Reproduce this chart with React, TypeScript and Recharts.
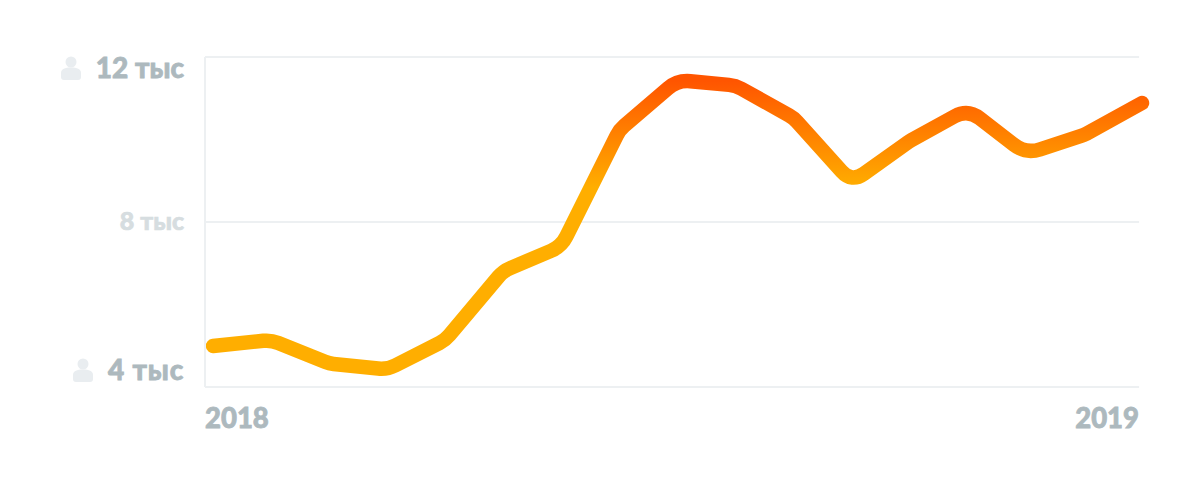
import { Line, LineChart, ReferenceLine, XAxis, YAxis } from "recharts";

const MONTHS = [
  "2018-01", "2018-02", "2018-03", "2018-04", "2018-05", "2018-06",
  "2018-07", "2018-08", "2018-09", "2018-10", "2018-11", "2018-12",
  "2019-01", "2019-02", "2019-03", "2019-04", "2019-05",
];
const SUBSCRIBERS = [
  4994, 5139, 4570, 4424, 5139, 6812, 7406, 10230, 11442, 11309, 10521, 8958,
  9964, 10739, 9649, 10109, 10885,
];
const Y_TICKS = [4000, 8000, 12000];
const Y_LABELS: Record<number, string> = {
  4000: "4 тыс",
  8000: "8 тыс",
  12000: "12 тыс",
};
const X_TICKS = [0, 16];
const X_LABELS: Record<number, string> = { 0: "2018", 16: "2019" };

const data = MONTHS.map((month, i) => ({ i, month, value: SUBSCRIBERS[i] }));

const FONT = "Lato, 'Noto Sans', sans-serif";
const GRID = "#edf0f2";
const X_MIN = -0.138;
const X_GRID_END = 15.95;

// straight segments with softened corners, sharper bends get a wider radius
function roundedCurve(context: any) {
  let pts: [number, number][] = [];
  return {
    areaStart() {},
    areaEnd() {},
    lineStart() {
      pts = [];
    },
    point(x: number, y: number) {
      pts.push([+x, +y]);
    },
    lineEnd() {
      pts.forEach((p, k) => {
        if (k === 0) {
          context.moveTo(p[0], p[1]);
        } else if (k === pts.length - 1) {
          context.lineTo(p[0], p[1]);
        } else {
          const a = pts[k - 1];
          const b = pts[k + 1];
          const la = Math.hypot(p[0] - a[0], p[1] - a[1]);
          const lb = Math.hypot(b[0] - p[0], b[1] - p[1]);
          const turn = Math.abs(
            Math.atan2(b[1] - p[1], b[0] - p[0]) - Math.atan2(p[1] - a[1], p[0] - a[0]),
          );
          const corner = Math.min(15, 16 * turn);
          const ra = corner / la;
          const rb = corner / lb;
          context.lineTo(p[0] + (a[0] - p[0]) * ra, p[1] + (a[1] - p[1]) * ra);
          context.quadraticCurveTo(p[0], p[1], p[0] + (b[0] - p[0]) * rb, p[1] + (b[1] - p[1]) * rb);
        }
      });
    },
  };
}

function UserIcon({ x, y }: { x: number; y: number }) {
  return (
    <g transform={`translate(${x},${y})`} fill="#e9edf0">
      <circle cx={10} cy={6} r={5.5} />
      <path d="M0 17 C0 13 4 11.5 10 11.5 C16 11.5 20 13 20 17 L20 21 C20 23 19 24 17 24 L3 24 C1 24 0 23 0 21 Z" />
    </g>
  );
}

function YTick({ x, y, payload }: any) {
  const value = payload.value as number;
  if (value === 8000) {
    return (
      <text x={x} y={y + 8} textAnchor="end" fontFamily={FONT} fontWeight={900} fontSize={25} fill="#d6dde0" stroke="#d6dde0" strokeWidth={0.7}>
        {Y_LABELS[value]}
      </text>
    );
  }
  const dy = value === 12000 ? 11 : -17;
  const iconX = value === 12000 ? -123 : -111;
  return (
    <g>
      <UserIcon x={x + iconX} y={y + dy - 12} />
      <text
        x={x}
        y={y + dy + 10}
        textAnchor="end"
        fontFamily={FONT}
        fontWeight={900}
        fontSize={28}
        letterSpacing={value === 4000 ? 0.8 : 0}
        fill="#adb9be"
        stroke="#adb9be"
        strokeWidth={0.8}
      >
        {Y_LABELS[value]}
      </text>
    </g>
  );
}

function XTick({ payload, y }: any) {
  const first = payload.value === 0;
  return (
    <text
      x={first ? 205 : 1139}
      y={y + 20}
      textAnchor={first ? "start" : "end"}
      fontFamily={FONT}
      fontWeight={900}
      fontSize={27.5}
      fill="#adb9be"
      stroke="#adb9be"
      strokeWidth={0.8}
    >
      {X_LABELS[payload.value]}
    </text>
  );
}

export default function App() {
  return (
    <div style={{ position: "absolute", left: 0, top: 0, width: 1200, height: 488, background: "#fff" }}>
      <LineChart
        width={1200}
        height={488}
        data={data}
        margin={{ top: 57, right: 58, left: 0, bottom: 0 }}
      >
        <defs>
          <linearGradient id="lineGradient" x1="0" y1="0" x2="0" y2="1">
            <stop offset="0%" stopColor="#ff5500" />
            <stop offset="37%" stopColor="#ffae00" />
            <stop offset="100%" stopColor="#ffae00" />
          </linearGradient>
        </defs>
        <XAxis
          dataKey="i"
          type="number"
          domain={[X_MIN, 16]}
          ticks={X_TICKS}
          height={101}
          axisLine={false}
          tickLine={false}
          tickSize={0}
          tickMargin={21}
          tick={<XTick />}
          interval={0}
        />
        <YAxis
          type="number"
          domain={[4000, 12000]}
          ticks={Y_TICKS}
          width={205}
          axisLine={{ stroke: GRID, strokeWidth: 2 }}
          tickLine={false}
          tickSize={0}
          tickMargin={21}
          tick={<YTick />}
          interval={0}
        />
        {Y_TICKS.map((t) => (
          <ReferenceLine
            key={t}
            segment={[
              { x: X_MIN, y: t },
              { x: X_GRID_END, y: t },
            ]}
            stroke={GRID}
            strokeWidth={2}
            ifOverflow="visible"
          />
        ))}
        <Line
          dataKey="value"
          type={roundedCurve as any}
          stroke="url(#lineGradient)"
          strokeWidth={14.5}
          strokeLinecap="round"
          strokeLinejoin="round"
          dot={false}
          activeDot={false}
          isAnimationActive={false}
        />
      </LineChart>
    </div>
  );
}
